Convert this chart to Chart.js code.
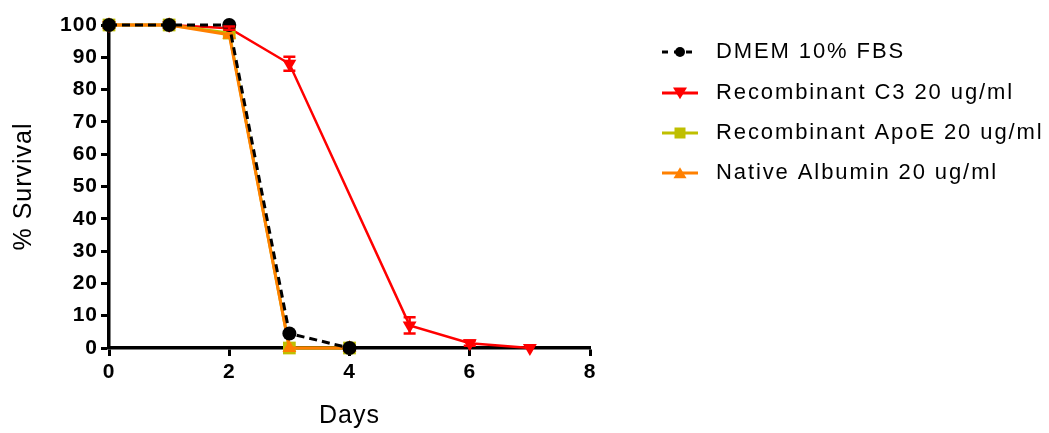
<!DOCTYPE html>
<html>
<head>
<meta charset="utf-8">
<script src="https://cdn.jsdelivr.net/npm/chart.js@4.4.0/dist/chart.umd.min.js"></script>
<style>
  html, body { margin: 0; padding: 0; background: #fff; }
  #wrap { width: 1049px; height: 433px; position: relative; }
</style>
</head>
<body>
<div id="wrap"><canvas id="chart"></canvas></div>
<script>
const seriesNames = ['DMEM 10% FBS', 'Recombinant C3 20 ug/ml', 'Recombinant ApoE 20 ug/ml', 'Native Albumin 20 ug/ml'];
const dmemDays = [0, 1, 2, 3, 4];
const dmemValues = [100, 100, 100, 4.5, 0];
const c3Days = [0, 1, 2, 3, 5, 6, 7];
const c3Values = [100, 100, 99, 88, 7, 1.5, 0];
const c3Errors = [0, 0, 0.5, 2.2, 2.5, 0.8, 0];
const apoeDays = [0, 1, 2, 3, 4];
const apoeValues = [100, 100, 97.5, 0, 0];
const albuminDays = [0, 1, 2, 3, 4];
const albuminValues = [100, 100, 97, 0, 0];
const xTicks = [0, 2, 4, 6, 8];

const FONT = '"Liberation Sans", Arial, sans-serif';
const colors = ['#000000', '#ff0000', '#bfbf00', '#ff8000'];

function toPoints(xs, ys) {
  return xs.map((x, i) => ({ x: x, y: ys[i] }));
}

// canvas letter spacing, the reference text is set a bit loose
const spacingPlugin = {
  id: 'spacing',
  beforeUpdate(chart) { chart.ctx.letterSpacing = '1px'; },
  beforeDraw(chart) { chart.ctx.letterSpacing = '1px'; }
};

// SEM bars for the C3 series
const errorBarPlugin = {
  id: 'errorBars',
  afterDatasetsDraw(chart) {
    const ctx = chart.ctx;
    const x = chart.scales.x;
    const y = chart.scales.y;
    ctx.save();
    ctx.strokeStyle = colors[1];
    ctx.lineWidth = 2.5;
    c3Days.forEach((d, i) => {
      const e = c3Errors[i];
      if (!e) return;
      const px = x.getPixelForValue(d);
      const top = y.getPixelForValue(c3Values[i] + e);
      const bot = y.getPixelForValue(c3Values[i] - e);
      ctx.beginPath();
      ctx.moveTo(px, top); ctx.lineTo(px, bot);
      ctx.moveTo(px - 6, top); ctx.lineTo(px + 6, top);
      ctx.moveTo(px - 6, bot); ctx.lineTo(px + 6, bot);
      ctx.stroke();
    });
    ctx.restore();
  }
};

function drawMarker(ctx, style, cx, cy, r, color) {
  ctx.fillStyle = color;
  ctx.beginPath();
  if (style === 'circle') {
    ctx.arc(cx, cy, r, 0, Math.PI * 2);
  } else if (style === 'rect') {
    ctx.rect(cx - r, cy - r, 2 * r, 2 * r);
  } else if (style === 'down') {
    ctx.moveTo(cx - r, cy - r * 0.8);
    ctx.lineTo(cx + r, cy - r * 0.8);
    ctx.lineTo(cx, cy + r * 0.9);
  } else {
    ctx.moveTo(cx - r, cy + r * 0.8);
    ctx.lineTo(cx + r, cy + r * 0.8);
    ctx.lineTo(cx, cy - r * 0.9);
  }
  ctx.closePath();
  ctx.fill();
}

// legend drawn by hand: line + marker + label, like the original
const legendPlugin = {
  id: 'sideLegend',
  afterDraw(chart) {
    const ctx = chart.ctx;
    const rows = [52, 93, 133, 173];
    const styles = ['circle', 'down', 'rect', 'up'];
    const sizes = [5, 7, 5.5, 6.5];
    ctx.save();
    chart.data.datasets.forEach((ds, i) => {
      const yy = rows[i];
      ctx.strokeStyle = colors[i];
      ctx.lineWidth = 3;
      ctx.setLineDash(i === 0 ? [6, 6] : []);
      ctx.beginPath();
      ctx.moveTo(662, yy);
      ctx.lineTo(698, yy);
      ctx.stroke();
      ctx.setLineDash([]);
      drawMarker(ctx, styles[i], 680, yy, sizes[i], colors[i]);
      ctx.fillStyle = '#000';
      ctx.font = '22px ' + FONT;
      ctx.letterSpacing = '1.9px';
      ctx.textAlign = 'left';
      ctx.textBaseline = 'middle';
      ctx.fillText(ds.label, 716, yy);
    });
    ctx.restore();
  }
};

new Chart(document.getElementById('chart'), {
  type: 'line',
  data: {
    datasets: [
      {
        label: seriesNames[0],
        data: toPoints(dmemDays, dmemValues),
        borderColor: colors[0], backgroundColor: colors[0],
        borderWidth: 3, borderDash: [8, 5],
        pointStyle: 'circle', pointRadius: 7, pointBorderWidth: 0,
        order: 0
      },
      {
        label: seriesNames[1],
        data: toPoints(c3Days, c3Values),
        borderColor: colors[1], backgroundColor: colors[1],
        borderWidth: 2.5,
        pointStyle: 'triangle', pointRotation: 180, pointRadius: 8, pointBorderWidth: 0,
        order: 3
      },
      {
        label: seriesNames[2],
        data: toPoints(apoeDays, apoeValues),
        borderColor: colors[2], backgroundColor: colors[2],
        borderWidth: 3,
        pointStyle: 'rect', pointRadius: 9, pointBorderWidth: 0,
        order: 2
      },
      {
        label: seriesNames[3],
        data: toPoints(albuminDays, albuminValues),
        borderColor: colors[3], backgroundColor: colors[3],
        borderWidth: 3,
        pointStyle: 'triangle', pointRadius: 8, pointBorderWidth: 0,
        order: 1
      }
    ]
  },
  options: {
    responsive: true,
    maintainAspectRatio: false,
    animation: false,
    clip: false,
    layout: { padding: { top: 25, right: 459, bottom: 0, left: 0 } },
    plugins: {
      legend: { display: false },
      tooltip: { enabled: false }
    },
    scales: {
      x: {
        type: 'linear',
        min: 0, max: 8,
        afterFit(s) { s.height = 85; },
        afterBuildTicks(s) { s.ticks = xTicks.map(v => ({ value: v })); },
        border: { display: true, color: '#000', width: 3.5 },
        grid: { drawOnChartArea: false, drawTicks: true, tickLength: 8, tickWidth: 3, tickColor: '#000' },
        ticks: { color: '#000', padding: 4, maxRotation: 0, font: { family: FONT, size: 21, weight: 'bold' } },
        title: { display: true, text: 'Days', color: '#000', padding: { top: 0, bottom: 2 }, font: { family: FONT, size: 25 } }
      },
      y: {
        min: 0, max: 100,
        afterFit(s) { s.width = 109; },
        border: { display: true, color: '#000', width: 3.5 },
        grid: { drawOnChartArea: false, drawTicks: true, tickLength: 8, tickWidth: 3, tickColor: '#000' },
        ticks: { stepSize: 10, color: '#000', padding: 3, font: { family: FONT, size: 21, weight: 'bold' } },
        title: { display: true, text: '% Survival', color: '#000', padding: { top: 9, bottom: 0 }, font: { family: FONT, size: 25 } }
      }
    }
  },
  plugins: [spacingPlugin, errorBarPlugin, legendPlugin]
});
</script>
</body>
</html>
